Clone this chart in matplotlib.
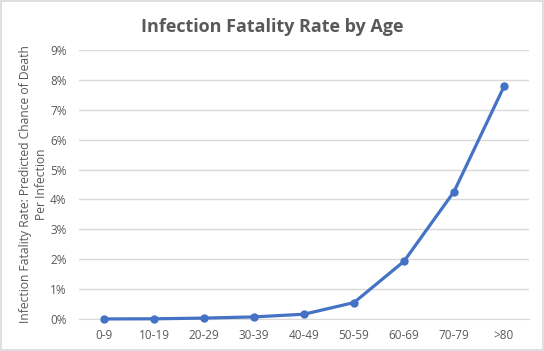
import matplotlib
matplotlib.use("Agg")
import matplotlib.pyplot as plt
from matplotlib.ticker import PercentFormatter
from matplotlib.patches import Rectangle

# Data
age_groups = ["0-9", "10-19", "20-29", "30-39", "40-49", "50-59", "60-69", "70-79", ">80"]
fatality_rate = [0.002, 0.007, 0.03, 0.07, 0.16, 0.55, 1.93, 4.26, 7.78]

plt.rcParams['font.family'] = ['Open Sans', 'DejaVu Sans']
grey = "#595959"

fig = plt.figure(figsize=(5.44, 3.51), dpi=100)
ax = fig.add_axes([79 / 544, 32 / 351, 450 / 544, 269 / 351])

x = list(range(len(age_groups)))
ax.plot(x, fatality_rate, color="#4472C4", linewidth=2.3, marker="o",
        markersize=5, zorder=3, clip_on=False)

ax.set_xlim(-0.5, len(age_groups) - 0.5)
ax.set_ylim(0, 9)
ax.set_yticks(range(0, 10))
ax.yaxis.set_major_formatter(PercentFormatter(decimals=0))
ax.set_xticks(x)
ax.set_xticklabels(age_groups)

ax.grid(axis="y", color="#D9D9D9", linewidth=1)
ax.set_axisbelow(True)
for s in ["top", "right", "left"]:
    ax.spines[s].set_visible(False)
ax.spines["bottom"].set_color("#D9D9D9")
ax.tick_params(length=0, colors=grey, labelsize=8.5)
ax.tick_params(axis="x", pad=7)
ax.tick_params(axis="y", pad=9)

ax.set_ylabel("Infection Fatality Rate: Predicted Chance of Death\nPer Infection",
              color=grey, fontsize=8.7, linespacing=1.35)
ax.yaxis.set_label_coords(-0.068, 0.5)

fig.suptitle("Infection Fatality Rate by Age", x=0.5, y=0.95, fontsize=13,
             fontweight="bold", color=grey)

# Light border around chart
fig.patches.append(Rectangle((0.001, 0.002), 0.997, 0.995, transform=fig.transFigure,
                             fill=False, edgecolor="#D9D9D9", linewidth=1.2))

fig.savefig("out.png", dpi=100)
